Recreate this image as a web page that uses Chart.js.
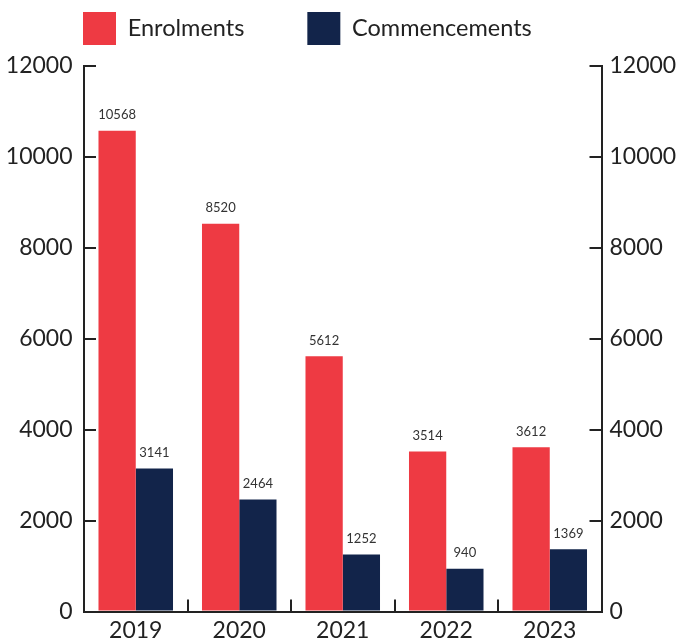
<!DOCTYPE html>
<html>
<head>
<meta charset="utf-8">
<script src="https://cdn.jsdelivr.net/npm/chart.js@4/dist/chart.umd.min.js"></script>
<style>
  html, body { margin: 0; padding: 0; background: #ffffff; }
  #wrap { width: 684px; height: 641px; }
</style>
</head>
<body>
<div id="wrap"><canvas id="chart" width="684" height="641"></canvas></div>
<script>
// Student enrolments and commencements by year
const years = ['2019', '2020', '2021', '2022', '2023'];
const enrolments = [10568, 8520, 5612, 3514, 3612];
const commencements = [3141, 2464, 1252, 940, 1369];
const axisMin = 0;
const axisMax = 12000;
const axisStep = 2000;

const RED = '#EE3A43';
const NAVY = '#12244A';
const INK = '#222222';

Chart.defaults.font.family = 'Lato, "Open Sans", sans-serif';
Chart.defaults.color = INK;

// Writes each bar's value just above it
const barValueLabels = {
  id: 'barValueLabels',
  afterDatasetsDraw(chart) {
    const ctx = chart.ctx;
    ctx.save();
    ctx.font = '13px Lato, sans-serif';
    ctx.fillStyle = '#333333';
    ctx.textAlign = 'center';
    ctx.textBaseline = 'alphabetic';
    chart.data.datasets.forEach((ds, i) => {
      chart.getDatasetMeta(i).data.forEach((bar, j) => {
        ctx.fillText(String(ds.data[j]), bar.x, bar.y - 11.5);
      });
    });
    ctx.restore();
  }
};

// Puts the legend row at the top left, its first swatch in line with the left axis
const legendInset = {
  id: 'legendInset',
  afterLayout(chart) {
    const lg = chart.legend;
    if (!lg) return;
    const pad = lg.options.labels.padding;
    lg.left = 83 - pad;
    lg.top = 12 - pad;
  }
};

// Shared settings for the two value axes (ticks point into the plot)
function valueAxis(position, pad, width) {
  return {
    type: 'linear',
    position: position,
    min: axisMin,
    max: axisMax,
    ticks: {
      stepSize: axisStep,
      padding: pad,
      color: INK,
      font: { size: 23 },
      callback: (v) => String(v)
    },
    grid: {
      drawOnChartArea: false,
      drawTicks: true,
      tickLength: -12,
      color: INK,
      lineWidth: 2
    },
    border: { color: INK, width: 2 },
    afterFit(scale) {
      scale.width = width;
      scale.paddingTop = 65.5;
      scale.paddingBottom = 0;
    }
  };
}

new Chart(document.getElementById('chart'), {
  type: 'bar',
  data: {
    labels: years,
    datasets: [
      { label: 'Enrolments', data: enrolments, backgroundColor: RED, borderWidth: 0, yAxisID: 'y' },
      { label: 'Commencements', data: commencements, backgroundColor: NAVY, borderWidth: 0, yAxisID: 'y' }
    ]
  },
  options: {
    responsive: false,
    animation: false,
    datasets: { bar: { categoryPercentage: 0.72, barPercentage: 1 } },
    layout: { padding: 0 },
    plugins: {
      legend: {
        position: 'top',
        align: 'start',
        maxHeight: 65.5,
        labels: {
          boxWidth: 33,
          boxHeight: 33,
          padding: 63,
          color: INK,
          font: { size: 23.5 }
        }
      },
      tooltip: { enabled: false }
    },
    scales: {
      x: {
        offset: true,
        ticks: { padding: 17.5, color: INK, font: { size: 23 } },
        grid: {
          offset: true,
          drawOnChartArea: false,
          drawTicks: true,
          tickLength: -12,
          color: INK,
          lineWidth: 2
        },
        border: { color: INK, width: 2 },
        afterFit(scale) {
          scale.height = 29.5;
          scale.paddingLeft = 0;
          scale.paddingRight = 0;
        }
      },
      y: valueAxis('left', 23.5, 84),
      y2: valueAxis('right', 20, 82.5)
    }
  },
  plugins: [barValueLabels, legendInset]
});
</script>
</body>
</html>
